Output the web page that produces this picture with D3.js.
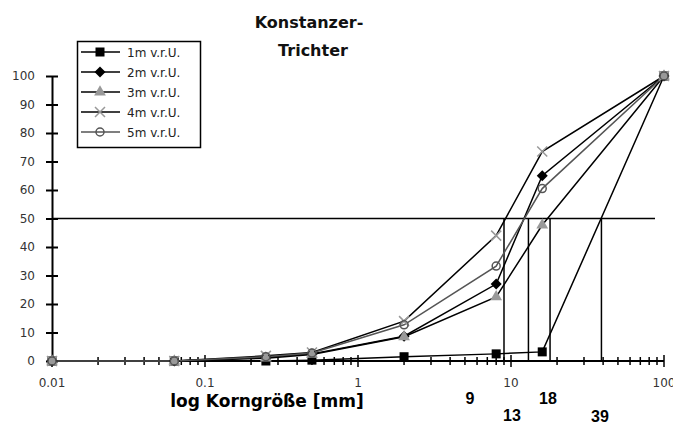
<!DOCTYPE html>
<html>
<head>
<meta charset="utf-8">
<script src="https://cdn.jsdelivr.net/npm/d3@7"></script>
<style>
  html, body { margin: 0; padding: 0; background: #fff; }
  svg { display: block; }
</style>
</head>
<body>
<svg id="chart" width="673" height="425"></svg>
<script>
// Sieve sizes in mm (log scale) and cumulative passing [%]
const sieveSizes = [0.01, 0.063, 0.25, 0.5, 2, 8, 16, 100];
const seriesNames = ["1m v.r.U.", "2m v.r.U.", "3m v.r.U.", "4m v.r.U.", "5m v.r.U."];
const passing1m = [0, 0, 0, 0.3, 1.5, 2.5, 3.2, 100];
const passing2m = [0, 0, 1.3, 2.5, 8.7, 27, 65, 100];
const passing3m = [0, 0, 1, 2.3, 8.5, 22.5, 47.7, 100];
const passing4m = [0, 0, 1.8, 3, 14, 44, 73.5, 100];
const passing5m = [0, 0, 1.5, 2.8, 12.7, 33.3, 60.5, 100];
// Grain sizes at 50 % passing (d50), one per marked profile
const d50Values = [9, 13, 18, 39];
const yTicks = [0, 10, 20, 30, 40, 50, 60, 70, 80, 90, 100];
const xTickLabels = [0.01, 0.1, 1, 10, 100];

const svg = d3.select("#chart");
const x = d3.scaleLog().domain([0.01, 100]).range([52, 664]);
const y = d3.scaleLinear().domain([0, 100]).range([361, 76]);

const axisColor = "#000";
const labelFont = "'DejaVu Sans', sans-serif";
const titleFont = "'DejaVu Sans', sans-serif";

// Title
svg.append("text").attr("x", 309).attr("y", 28)
  .attr("text-anchor", "middle").attr("font-family", titleFont)
  .attr("font-weight", "bold").attr("font-size", 16).attr("fill", "#111")
  .text("Konstanzer-");
svg.append("text").attr("x", 313).attr("y", 56)
  .attr("text-anchor", "middle").attr("font-family", titleFont)
  .attr("font-weight", "bold").attr("font-size", 16).attr("fill", "#111")
  .text("Trichter");

// Y axis
const yAxis = d3.axisLeft(y).tickValues(yTicks).tickSize(0).tickPadding(17);
const gy = svg.append("g").attr("transform", `translate(${x(0.01)},0)`).call(yAxis);
gy.select(".domain").attr("stroke", axisColor).attr("stroke-width", 2);
gy.selectAll(".tick text").attr("font-family", labelFont).attr("font-size", 12).attr("fill", "#333");
gy.selectAll(".tick").append("line")
  .attr("x1", -6).attr("x2", 6).attr("stroke", axisColor).attr("stroke-width", 2);

// X axis (log, crossing ticks)
const gx = svg.append("g").attr("transform", `translate(0,${y(0)})`);
const allTicks = x.ticks();
gx.append("line").attr("x1", x(0.01)).attr("x2", x(100))
  .attr("stroke", axisColor).attr("stroke-width", 2);
gx.selectAll("line.tk").data(allTicks).join("line").attr("class", "tk")
  .attr("x1", d => x(d)).attr("x2", d => x(d))
  .attr("y1", d => xTickLabels.includes(d) ? -6 : -4)
  .attr("y2", d => xTickLabels.includes(d) ? 6 : 4)
  .attr("stroke", axisColor).attr("stroke-width", 1.5);
gx.selectAll("text").data(xTickLabels).join("text")
  .attr("x", d => x(d)).attr("y", 26)
  .attr("text-anchor", "middle").attr("font-family", labelFont)
  .attr("font-size", 12).attr("fill", "#333")
  .text(d => String(d));

// 50 % line and d50 verticals
svg.append("line").attr("x1", x(0.01)).attr("x2", 655)
  .attr("y1", y(50)).attr("y2", y(50)).attr("stroke", "#000").attr("stroke-width", 1.5);
svg.selectAll("line.d50").data(d50Values).join("line").attr("class", "d50")
  .attr("x1", d => x(d)).attr("x2", d => x(d))
  .attr("y1", y(50)).attr("y2", y(0)).attr("stroke", "#000").attr("stroke-width", 1.5);

// Series
const seriesData = [passing1m, passing2m, passing3m, passing4m, passing5m];
const lineColors = ["#000", "#000", "#000", "#000", "#555"];
const markerSpecs = [
  { type: "square", size: 4.5, fill: "#000" },
  { type: "diamond", size: 5.5, fill: "#000" },
  { type: "triangle", size: 60, fill: "#999" },
  { type: "x", size: 5, stroke: "#999" },
  { type: "o", size: 4, stroke: "#555" }
];

function drawMarker(g, spec, cx, cy) {
  const s = spec.size;
  if (spec.type === "x") {
    g.append("path").attr("d", `M${cx - s},${cy - s}L${cx + s},${cy + s}M${cx - s},${cy + s}L${cx + s},${cy - s}`)
      .attr("stroke", spec.stroke).attr("stroke-width", 1.5).attr("fill", "none");
  } else if (spec.type === "o") {
    g.append("circle").attr("cx", cx).attr("cy", cy).attr("r", s)
      .attr("stroke", spec.stroke).attr("stroke-width", 1.5).attr("fill", "none");
  } else if (spec.type === "square") {
    g.append("rect").attr("x", cx - s).attr("y", cy - s).attr("width", 2 * s).attr("height", 2 * s)
      .attr("fill", spec.fill);
  } else if (spec.type === "diamond") {
    g.append("path").attr("d", `M${cx},${cy - s}L${cx + s},${cy}L${cx},${cy + s}L${cx - s},${cy}Z`)
      .attr("fill", spec.fill);
  } else {
    g.append("path").attr("d", d3.symbol().type(d3.symbolTriangle).size(s)())
      .attr("transform", `translate(${cx},${cy})`).attr("fill", spec.fill);
  }
}

const line = d3.line().x(d => x(d[0])).y(d => y(d[1]));
seriesData.forEach((vals, i) => {
  const pts = sieveSizes.map((s, j) => [s, vals[j]]);
  svg.append("path").datum(pts).attr("d", line)
    .attr("fill", "none").attr("stroke", lineColors[i]).attr("stroke-width", 1.5);
});
seriesData.forEach((vals, i) => {
  const g = svg.append("g");
  sieveSizes.forEach((s, j) => drawMarker(g, markerSpecs[i], x(s), y(vals[j])));
});

// Legend
const legend = svg.append("g");
legend.append("rect").attr("x", 77.5).attr("y", 41.5).attr("width", 123).attr("height", 106)
  .attr("fill", "#fff").attr("stroke", "#000").attr("stroke-width", 1.5);
seriesNames.forEach((name, i) => {
  const ly = 52 + i * 20;
  legend.append("line").attr("x1", 81).attr("x2", 120).attr("y1", ly).attr("y2", ly)
    .attr("stroke", lineColors[i]).attr("stroke-width", 1.5);
  drawMarker(legend, markerSpecs[i], 100, ly);
  legend.append("text").attr("x", 127).attr("y", ly + 4.5)
    .attr("font-family", labelFont).attr("font-size", 12).attr("fill", "#222").text(name);
});

// Axis title and d50 labels
svg.append("text").attr("x", 267).attr("y", 407).attr("text-anchor", "middle")
  .attr("font-family", titleFont).attr("font-weight", "bold")
  .attr("font-size", 17).attr("fill", "#000").text("log Korngröße [mm]");
const d50LabelPos = [[470, 404], [512, 421], [548, 404], [600, 422]];
d50Values.forEach((v, i) => {
  svg.append("text").attr("x", d50LabelPos[i][0]).attr("y", d50LabelPos[i][1])
    .attr("text-anchor", "middle")
    .attr("font-family", "'Liberation Sans Narrow', 'Liberation Sans', sans-serif")
    .attr("font-weight", "bold").attr("font-size", 16).attr("fill", "#000").text(v);
});
</script>
</body>
</html>
